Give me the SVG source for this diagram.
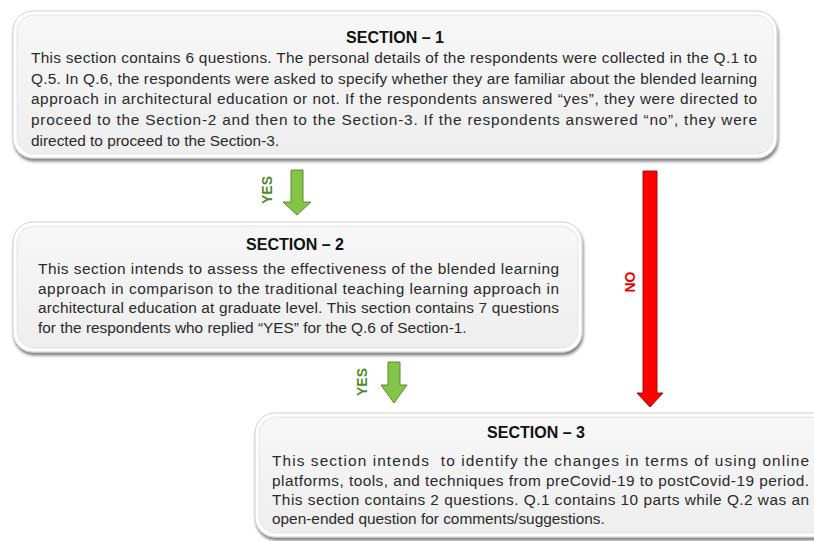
<svg xmlns="http://www.w3.org/2000/svg" width="814" height="541" viewBox="0 0 814 541">
<defs>
  <linearGradient id="boxFill" x1="0" y1="0" x2="0" y2="1">
    <stop offset="0" stop-color="#f7f7f7"/>
    <stop offset="1" stop-color="#eeeeee"/>
  </linearGradient>
  <filter id="shadow" x="-5%" y="-10%" width="110%" height="125%">
    <feGaussianBlur in="SourceAlpha" stdDeviation="1.6"/>
    <feOffset dx="1" dy="3" result="b"/>
    <feComponentTransfer><feFuncA type="linear" slope="0.5"/></feComponentTransfer>
    <feMerge><feMergeNode/><feMergeNode in="SourceGraphic"/></feMerge>
  </filter>
</defs>
<style>
  .outer { fill: #ffffff; stroke: #cfcfcf; stroke-width: 1; filter: url(#shadow); }
  .inner { fill: url(#boxFill); stroke: #e0e0e0; stroke-width: 0.8; }
  .title { font-family: "Liberation Sans", Arial, sans-serif; font-weight: bold; font-size: 16px; fill: #111; text-anchor: middle; }
  .body { font-family: "Liberation Sans", Arial, sans-serif; font-size: 15.4px; fill: #2a2a2a; }
  .green { fill: #84c446; stroke: #5b8c2f; stroke-width: 1; }
  .red { fill: #ff0000; stroke: #9a1010; stroke-width: 1; }
  .yes { font-family: "Liberation Sans", Arial, sans-serif; font-weight: bold; font-size: 14px; fill: #4f8a2b; text-anchor: middle; }
  .no { font-family: "Liberation Sans", Arial, sans-serif; font-weight: bold; font-size: 14px; fill: #e8000b; text-anchor: middle; }
</style>
<rect width="814" height="541" fill="#ffffff"/>

<g id="section1">
  <rect class="outer" x="13" y="11" width="764" height="147" rx="20"/>
  <rect class="inner" x="17" y="15" width="756" height="139" rx="17"/>
  <text class="title" x="395" y="43">SECTION – 1</text>
  <text class="body" x="31" y="63" textLength="726" lengthAdjust="spacing">This section contains 6 questions. The personal details of the respondents were collected in the Q.1 to</text>
  <text class="body" x="31" y="84" textLength="726" lengthAdjust="spacing">Q.5. In Q.6, the respondents were asked to specify whether they are familiar about the blended learning</text>
  <text class="body" x="31" y="104" textLength="726" lengthAdjust="spacing">approach in architectural education or not. If the respondents answered “yes”, they were directed to</text>
  <text class="body" x="31" y="125" textLength="726" lengthAdjust="spacing">proceed to the Section-2 and then to the Section-3. If the respondents answered “no”, they were</text>
  <text class="body" x="31" y="146">directed to proceed to the Section-3.</text>
</g>

<g id="section2">
  <rect class="outer" x="13" y="222" width="569" height="130" rx="20"/>
  <rect class="inner" x="17" y="226" width="561" height="122" rx="17"/>
  <text class="title" x="295" y="250">SECTION – 2</text>
  <text class="body" x="38" y="274" textLength="521" lengthAdjust="spacing">This section intends to assess the effectiveness of the blended learning</text>
  <text class="body" x="38" y="294" textLength="521" lengthAdjust="spacing">approach in comparison to the traditional teaching learning approach in</text>
  <text class="body" x="38" y="313" textLength="521" lengthAdjust="spacing">architectural education at graduate level. This section contains 7 questions</text>
  <text class="body" x="38" y="333">for the respondents who replied “YES” for the Q.6 of Section-1.</text>
</g>

<g id="section3">
  <rect class="outer" x="255" y="413" width="580" height="124" rx="20"/>
  <rect class="inner" x="259" y="417" width="572" height="116" rx="17"/>
  <text class="title" x="536" y="438">SECTION – 3</text>
  <text class="body" x="272" y="466" textLength="537" lengthAdjust="spacing" xml:space="preserve">This section intends  to identify the changes in terms of using online</text>
  <text class="body" x="272" y="486" textLength="537" lengthAdjust="spacing">platforms, tools, and techniques from preCovid-19 to postCovid-19 period.</text>
  <text class="body" x="272" y="505" textLength="537" lengthAdjust="spacing">This section contains 2 questions. Q.1 contains 10 parts while Q.2 was an</text>
  <text class="body" x="272" y="524">open-ended question for comments/suggestions.</text>
</g>

<g id="connectors">
  <g id="yes1">
    <polygon class="green" points="291,170 303,170 303,202 311,202 297,215 283,202 291,202"/>
    <text class="yes" transform="translate(272,190) rotate(-90)">YES</text>
  </g>
  <g id="yes2">
    <polygon class="green" points="388,362 400,362 400,385 407,385 394,403 381,385 388,385"/>
    <text class="yes" transform="translate(367,382) rotate(-90)">YES</text>
  </g>
  <g id="no">
    <polygon class="red" points="643,171 657,171 657,393 663,393 650,407 637,393 643,393"/>
    <text class="no" transform="translate(635,282) rotate(-90)">NO</text>
  </g>
</g>
</svg>
